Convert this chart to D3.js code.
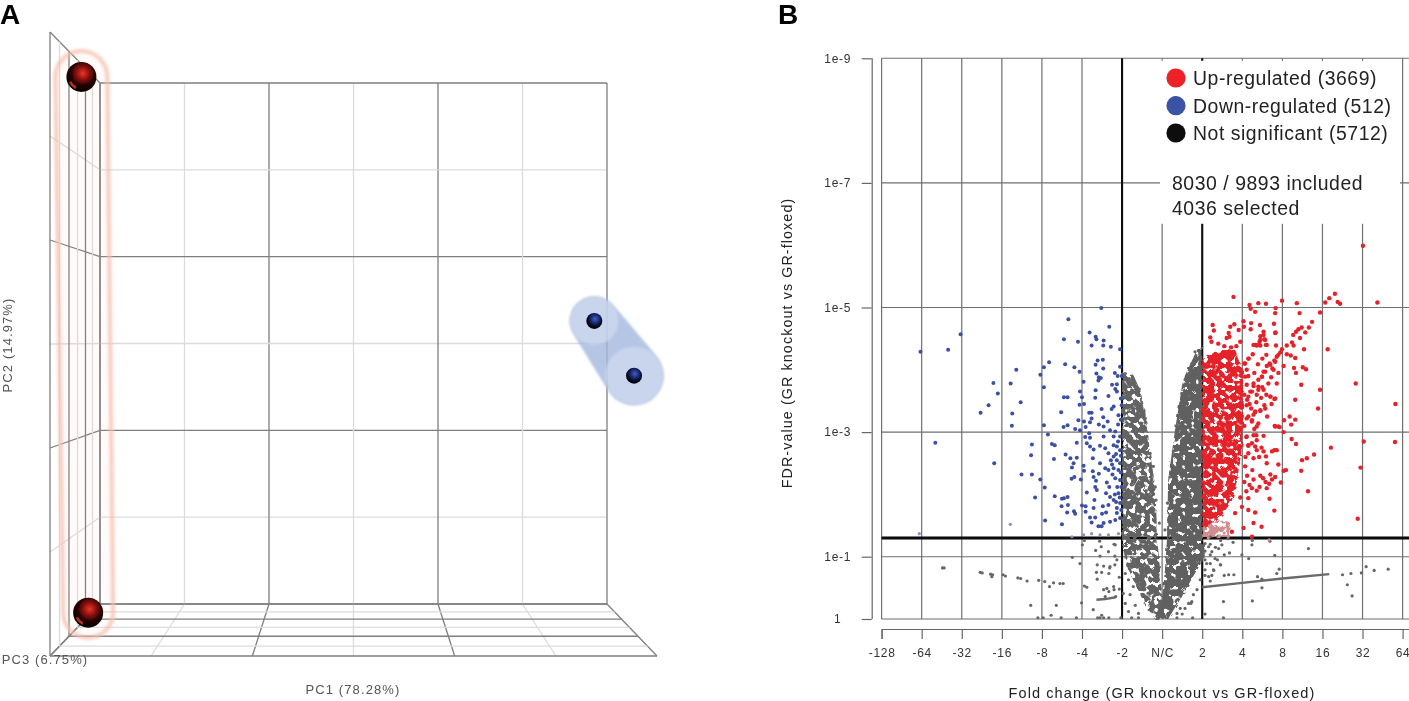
<!DOCTYPE html>
<html>
<head>
<meta charset="utf-8">
<script src="https://cdn.jsdelivr.net/npm/d3@7"></script>
<style>
html, body { margin: 0; padding: 0; background: #fff; overflow: hidden; }
svg { display: block; font-family: "Liberation Sans", Arial, sans-serif; }
</style>
</head>
<body>
<svg id="fig" width="1409" height="701"></svg>
<script>
// ---- panel A values: PCA box, in grid steps
var gridSteps = [0, 1, 2, 3, 4, 5, 6];
var depthStops = [0, 0.15, 0.29, 0.45, 0.62, 0.81, 1];
var redSamples = [[-0.22, 6.07], [-0.14, -0.10]];
var blueSamples = [[5.85, 3.26], [6.32, 2.63]];
var pcLabels = ["PC1 (78.28%)", "PC2 (14.97%)", "PC3 (6.75%)"];

// ---- panel B values: x is signed log2 fold change, y is -log10 FDR
var foldTicks = [-7, -6, -5, -4, -3, -2, -1, 0, 1, 2, 3, 4, 5, 6];
var foldLabels = ["-128", "-64", "-32", "-16", "-8", "-4", "-2", "N/C", "2", "4", "8", "16", "32", "64"];
var fdrTicks = [0, 1, 3, 5, 7, 9];
var fdrLabels = ["1", "1e-1", "1e-3", "1e-5", "1e-7", "1e-9"];
var fdrCutoff = 1.3;
var foldCutoff = 1;
var legendNames = ["Up-regulated (3669)", "Down-regulated (512)", "Not significant (5712)"];
var legendColors = ["#ec2028", "#3b52a5", "#0a0a0a"];
var includedNotes = ["8030 / 9893 included", "4036 selected"];

var downPoints = [[-1.52,4.99],[-2.34,4.81],[-1.32,4.69],[-1.81,4.60],[-1.66,4.53],[-1.64,4.49],[-2.45,4.49],[-2.10,4.45],[-1.46,4.47],[-1.76,4.39],[-1.47,4.39],[-1.28,4.37],[-1.05,4.33],[-5.03,4.57],[-5.34,4.32],[-6.03,4.29],[-2.82,4.12],[-2.95,4.04],[-2.42,4.09],[-2.19,4.04],[-2.06,3.97],[-1.61,4.15],[-1.48,4.16],[-1.66,4.08],[-1.47,4.02],[-3.64,4.00],[-3.04,3.92],[-4.21,3.79],[-3.78,3.78],[-4.10,3.62],[-4.33,3.43],[-4.53,3.31],[-3.74,3.30],[-3.53,3.48],[-3.75,3.10],[-2.95,3.72],[-1.96,3.81],[-1.64,3.94],[-1.58,3.88],[-1.53,3.87],[-1.59,3.83],[-1.18,3.95],[-1.11,3.90],[-1.01,3.90],[-1.05,4.05],[-1.25,3.76],[-1.13,3.77],[-1.17,3.69],[-1.13,3.65],[-1.66,3.67],[-2.05,3.65],[-2.00,3.56],[-1.67,3.55],[-2.45,3.56],[-2.36,3.56],[-1.34,3.58],[-1.95,3.45],[-2.06,3.44],[-1.03,3.54],[-1.21,3.41],[-1.26,3.37],[-1.51,3.37],[-1.01,3.43],[-1.76,3.31],[-1.82,3.31],[-2.52,3.32],[-1.76,3.22],[-1.09,3.27],[-2.09,3.19],[-1.95,3.17],[-1.80,3.16],[-1.47,3.24],[-1.36,3.17],[-2.95,3.11],[-2.46,3.08],[-2.36,3.11],[-2.17,3.05],[-2.05,3.03],[-1.91,3.08],[-1.58,3.12],[-1.46,3.09],[-1.30,3.03],[-1.17,3.01],[-2.85,2.96],[-1.82,2.98],[-1.92,2.92],[-1.80,2.91],[-1.46,2.93],[-1.21,2.93],[-1.05,2.93],[-3.25,2.80],[-2.75,2.81],[-2.68,2.79],[-2.13,2.83],[-1.88,2.82],[-1.80,2.77],[-1.71,2.72],[-1.55,2.78],[-1.42,2.74],[-1.21,2.79],[-1.13,2.77],[-1.05,2.71],[-5.66,2.83],[-3.27,2.63],[-2.70,2.57],[-2.41,2.64],[-2.29,2.58],[-2.13,2.59],[-1.73,2.58],[-2.21,2.50],[-2.25,2.43],[-1.96,2.46],[-1.55,2.50],[-1.34,2.66],[-1.21,2.61],[-1.13,2.55],[-1.05,2.50],[-1.42,2.42],[-1.34,2.39],[-1.21,2.42],[-1.09,2.39],[-4.19,2.50],[-3.51,2.32],[-3.25,2.32],[-3.04,2.24],[-2.93,2.11],[-2.26,2.25],[-2.19,2.28],[-2.03,2.24],[-1.95,2.38],[-1.73,2.37],[-1.58,2.33],[-1.71,2.28],[-1.65,2.22],[-1.38,2.19],[-1.17,2.26],[-1.05,2.23],[-1.32,2.12],[-1.67,2.12],[-1.63,2.07],[-1.88,2.03],[-1.40,2.02],[-1.30,1.96],[-1.21,1.91],[-1.09,2.02],[-3.17,1.95],[-2.68,1.97],[-2.50,1.93],[-2.45,1.94],[-2.36,1.96],[-2.51,1.81],[-2.35,1.83],[-2.20,1.73],[-2.00,1.82],[-1.91,1.81],[-1.69,1.91],[-1.48,1.81],[-1.34,1.83],[-1.13,1.78],[-1.05,1.86],[-1.71,1.78],[-2.37,1.71],[-2.17,1.69],[-1.91,1.72],[-1.50,1.69],[-1.40,1.71],[-1.13,1.70],[-2.92,1.58],[-2.50,1.52],[-1.80,1.63],[-1.67,1.63],[-1.76,1.55],[-1.59,1.49],[-1.46,1.54],[-1.30,1.56],[-1.17,1.59],[-1.05,1.62],[-1.51,1.49],[-1.10,2.85],[-1.15,2.65],[-1.25,2.48],[-1.03,2.35],[-1.12,2.12],[-1.02,2.12],[-1.18,2.00],[-1.06,1.95],[-1.24,2.32],[-1.28,2.55],[-1.03,2.62],[-1.10,3.12],[-1.03,3.20],[-1.15,1.88],[-1.02,1.75]];
var downNearCutoff = [[-6.06,1.37],[-3.79,1.52],[-2.25,1.32],[-1.96,1.35],[-1.76,1.37],[-1.55,1.35],[-1.34,1.35],[-1.09,1.37]];

var upPoints = [[1.78,5.17],[2.18,5.04],[2.40,5.07],[2.59,5.06],[2.99,5.11],[3.36,5.07],[4.07,5.08],[4.17,5.15],[4.31,5.22],[4.38,5.09],[4.44,5.06],[5.37,5.08],[5.01,5.99],[2.21,4.98],[2.32,4.93],[2.83,4.99],[2.82,4.91],[3.43,4.91],[3.94,4.92],[2.03,4.78],[1.26,4.72],[1.80,4.73],[2.22,4.75],[2.44,4.72],[2.79,4.74],[3.74,4.77],[1.70,4.69],[1.91,4.64],[2.04,4.69],[2.21,4.65],[2.83,4.60],[3.48,4.68],[3.40,4.65],[3.34,4.61],[3.66,4.68],[3.57,4.60],[1.29,4.63],[1.66,4.59],[2.53,4.61],[2.45,4.54],[3.27,4.56],[1.20,4.52],[1.61,4.51],[1.68,4.53],[2.55,4.49],[3.44,4.51],[3.24,4.44],[1.23,4.45],[1.95,4.45],[2.43,4.45],[2.28,4.40],[2.36,4.39],[2.45,4.39],[2.59,4.40],[2.84,4.39],[3.11,4.39],[3.28,4.39],[3.54,4.33],[4.13,4.33],[2.99,4.33],[2.95,4.28],[3.11,4.25],[3.21,4.23],[3.32,4.19],[2.86,4.21],[2.80,4.15],[2.61,4.06],[2.39,4.09],[3.29,4.03],[3.51,4.04],[3.59,4.01],[3.34,3.95],[3.03,4.06],[2.90,3.95],[2.53,3.97],[2.49,3.89],[2.40,3.84],[2.65,3.78],[2.86,3.78],[3.47,3.76],[3.94,3.68],[4.83,3.78],[2.28,3.74],[2.40,3.68],[2.20,3.65],[2.60,3.60],[2.70,3.57],[2.80,3.53],[3.32,3.52],[5.82,3.45],[3.89,3.38],[2.55,3.43],[2.45,3.34],[2.32,3.32],[3.18,3.25],[3.32,3.20],[3.04,3.19],[3.22,3.12],[2.11,3.22],[2.24,3.17],[2.36,3.09],[2.81,3.10],[2.93,3.08],[3.03,3.00],[2.53,2.94],[3.23,2.89],[3.34,2.81],[2.35,2.95],[2.24,2.82],[4.21,2.75],[5.03,2.85],[5.81,2.84],[2.80,2.71],[2.74,2.69],[3.79,2.64],[3.61,2.58],[3.49,2.55],[2.59,2.61],[2.61,2.50],[2.36,2.71],[2.15,2.66],[2.28,2.58],[2.90,2.48],[4.95,2.43],[3.03,2.38],[3.09,2.39],[3.47,2.38],[2.07,2.45],[2.25,2.39],[2.28,2.24],[2.82,2.28],[2.74,2.24],[2.67,2.17],[2.96,2.19],[2.61,2.10],[2.43,2.12],[2.36,2.06],[2.24,2.10],[3.64,2.05],[2.68,1.93],[2.15,1.94],[1.99,1.80],[1.82,1.70],[2.32,1.71],[2.80,1.74],[4.88,1.61],[2.28,1.54],[2.48,1.48],[2.03,1.46],[1.74,1.40],[2.24,1.32],[2.05,3.60],[2.12,3.52],[2.18,3.45],[2.22,3.38],[2.28,3.28],[2.05,3.10],[2.10,2.92],[2.15,2.78],[2.08,2.60],[2.12,2.30],[2.05,2.20],[2.18,2.15],[2.10,2.05],[1.95,1.95],[2.15,1.75],[2.45,2.30],[2.52,2.26],[2.58,2.20],[2.70,2.32],[2.42,2.60],[2.48,2.75],[2.30,3.05],[2.62,3.25],[2.73,3.45],[2.47,3.55],[2.35,3.48],[2.50,3.72],[2.72,3.88],[2.30,3.95],[2.15,3.90],[2.05,4.10],[2.16,4.18],[2.26,4.25],[1.40,4.42],[1.55,4.38],[1.72,4.36],[1.85,4.38],[2.50,4.18],[2.60,4.24],[2.68,4.10],[2.75,4.02],[2.07,4.10],[2.15,4.18],[2.11,4.00],[2.07,3.89],[2.32,4.40],[2.40,4.40],[2.61,4.40],[2.53,4.56],[2.45,4.48],[2.57,4.48],[2.82,4.59],[2.90,4.24],[2.82,4.13],[2.70,4.08],[2.57,3.97],[2.49,3.89],[2.78,4.00],[2.11,3.76],[2.28,3.78],[2.40,3.73],[2.53,3.68],[2.24,3.65],[2.36,3.60],[2.15,3.57],[2.70,3.57],[2.82,3.54],[2.57,3.38],[2.45,3.35],[2.32,3.33],[2.15,3.25],[2.24,3.19],[2.11,3.43],[2.40,3.14],[2.82,3.09],[2.90,3.09],[2.28,2.95],[2.36,2.87],[2.11,2.93],[2.15,2.79],[2.32,2.77],[2.86,2.71],[2.53,2.69]];
var upNearCutoff = [[2.67,1.27],[1.05,1.35],[1.15,1.30],[1.28,1.36],[1.42,1.32],[1.55,1.38],[1.65,1.33]];

var flatPoints = [[-5.48,0.82],[-5.44,0.82],[-4.54,0.75],[-4.49,0.74],[-4.28,0.72],[-4.23,0.71],[-4.25,0.68],[-3.97,0.71],[-3.91,0.69],[-3.60,0.66],[-3.53,0.65],[-3.37,0.61],[-3.08,0.62],[-2.93,0.60],[-2.71,0.58],[-2.81,0.52],[-2.55,0.57],[-2.47,0.57],[-3.28,0.22],[-2.64,0.22],[-2.77,0.06],[-2.52,0.02],[-2.97,0.02],[-3.10,0.02],[-2.14,0.02],[-2.01,0.26],[-1.94,0.53],[-1.88,0.51],[-2.05,0.89],[-2.24,0.99],[-1.99,1.19],[-1.94,1.26],[-1.56,1.25],[-1.52,1.16],[-1.66,1.10],[-1.55,1.01],[-1.62,0.87],[-1.46,0.85],[-1.64,0.75],[-1.51,0.75],[-1.33,0.73],[-1.62,0.64],[-1.31,0.82],[-1.18,0.87],[-1.18,1.01],[-1.20,1.20],[-1.07,0.67],[-1.20,0.47],[-1.33,0.44],[-1.46,0.47],[-1.07,0.48],[-1.16,0.36],[-1.72,0.15],[-1.51,0.06],[-1.55,0.02],[-1.61,0.02],[-1.46,0.02],[-1.33,0.02],[-1.03,0.02],[-0.76,0.02],[-0.59,0.02],[2.24,1.19],[2.25,1.26],[2.69,1.25],[2.81,1.02],[2.16,0.97],[1.99,1.03],[3.65,1.13],[1.24,0.70],[1.55,0.70],[1.66,0.71],[1.79,0.71],[2.38,0.68],[2.49,0.64],[2.49,0.50],[2.86,0.73],[2.92,0.80],[5.09,0.84],[4.97,0.74],[4.71,0.73],[4.50,0.71],[4.62,0.55],[4.74,0.37],[5.29,0.78],[5.64,0.80],[1.53,0.28],[2.25,0.29],[1.07,0.08],[1.53,0.02],[0.72,0.25],[0.50,0.08],[0.76,0.02],[0.37,0.02],[1.20,1.20],[1.33,1.15],[1.46,1.26],[1.64,1.29],[1.77,1.23],[1.20,1.03],[1.38,0.95],[1.55,1.03],[1.68,1.06],[1.11,0.89],[1.29,0.78],[1.46,0.87],[1.07,0.70],[1.20,0.61],[1.20,1.32],[1.38,1.32],[1.07,1.09],[1.07,1.21],[1.16,1.16],[1.24,1.08],[1.32,0.97],[1.20,0.89],[1.07,0.79],[1.41,1.13],[1.49,1.19],[1.03,1.05],[1.16,0.68],[1.45,0.87],[1.07,0.95],[1.28,0.79],[0.95,0.63],[0.87,0.47],[0.74,0.28],[0.57,0.17],[0.78,0.39],[-1.38,0.49],[-1.21,0.52],[-1.42,0.36],[-1.17,1.19],[-1.34,1.08],[-1.30,0.84],[-1.13,0.95],[-0.92,0.25],[-0.80,0.39],[-0.67,0.22],[-0.84,0.12],[-0.59,0.09],[-0.97,0.41],[-0.72,0.52],[-0.84,0.63],[-0.92,0.73],[0.49,0.41],[0.66,0.25],[0.45,0.17],[0.37,0.09]];
var flatEdgePoints = [[-0.92,3.94],[-0.82,3.86],[-0.74,3.87],[-0.84,3.78],[-0.76,3.68],[-0.57,3.69],[-0.67,3.43],[-0.51,3.35],[-0.45,3.34],[-0.42,3.22],[-0.80,3.09],[-0.51,3.01],[-0.38,2.93],[-0.30,2.66],[-0.22,2.45],[-0.17,2.12],[-0.15,1.91],[-0.07,1.54],[0.82,4.29],[0.74,4.10],[0.66,3.94],[0.57,3.84],[0.49,3.62],[0.53,3.73],[0.37,3.11],[0.28,2.69],[0.20,2.28],[0.13,1.86],[0.07,1.43]];
var rightStreak = [[1.0,0.51],[2.0,0.58],[3.0,0.65],[4.17,0.72]];
var leftStreak = [[-1.64,0.31],[-1.42,0.32],[-1.16,0.35]];

// outlines of the clouds too dense to read point by point
var flatLeftCloud = [[-1.00,3.96],[-0.72,3.92],[-0.55,3.68],[-0.42,3.32],[-0.30,2.66],[-0.17,2.12],[-0.12,1.27],[-0.05,0.79],[0,0.30],[0.10,0],[-0.37,0.14],[-0.60,0.47],[-0.85,0.79],[-1.00,1.19]];
var flatRightCloud = [[0.87,4.32],[1.00,4.40],[1.00,1.27],[1.07,1.19],[1.02,0.95],[0.75,0.66],[0.52,0.39],[0.25,0.11],[0.15,0],[-0.20,0],[0,0.30],[0.07,0.79],[0.12,1.27],[0.15,2.23],[0.32,3.03],[0.52,3.84]];
var upCloud = [[1.00,4.16],[1.32,4.29],[1.82,4.32],[2.02,4.00],[2.02,2.87],[1.87,2.23],[1.75,1.91],[1.50,1.67],[1.15,1.51],[1.00,1.47]];
var upPaleCloud = [[1.00,1.30],[1.00,1.47],[1.32,1.59],[1.70,1.56],[1.65,1.33]];

var svg = d3.select("#fig");
var defs = svg.append("defs");

defs.append("filter").attr("id", "soft").append("feGaussianBlur").attr("stdDeviation", 0.4);
defs.append("filter").attr("id", "halo").attr("x", "-20%").attr("y", "-5%").attr("width", "140%").attr("height", "110%")
    .append("feGaussianBlur").attr("stdDeviation", 1.6);
defs.append("filter").attr("id", "tubeBlur").append("feGaussianBlur").attr("stdDeviation", 1.3);

// punches speckled holes in a dense cloud and frays its edge
function speckleFilter(id, threshold, seed) {
    var f = defs.append("filter").attr("id", id).attr("color-interpolation-filters", "sRGB")
        .attr("x", "-10%").attr("y", "-10%").attr("width", "120%").attr("height", "120%");
    f.append("feTurbulence").attr("type", "fractalNoise").attr("baseFrequency", 0.22).attr("numOctaves", 1)
        .attr("seed", seed).attr("result", "noise");
    f.append("feColorMatrix").attr("in", "noise").attr("type", "matrix")
        .attr("values", "0 0 0 0 0  0 0 0 0 0  0 0 0 0 0  14 0 0 0 " + (-14 * threshold)).attr("result", "holes");
    f.append("feComposite").attr("in", "SourceGraphic").attr("in2", "holes").attr("operator", "in").attr("result", "cut");
    f.append("feDisplacementMap").attr("in", "cut").attr("in2", "noise").attr("scale", 5);
}
speckleFilter("cloudDense", 0.33, 4);
speckleFilter("cloudSparse", 0.39, 9);
speckleFilter("cloudRed", 0.37, 15);

function ballGradient(id, stops) {
    var g = defs.append("radialGradient").attr("id", id).attr("cx", "55%").attr("cy", "38%").attr("r", "60%");
    stops.forEach(function(s) { g.append("stop").attr("offset", s[0]).attr("stop-color", s[1]); });
}
ballGradient("redBall", [["0%", "#e33a2b"], ["30%", "#a01411"], ["65%", "#2a0303"], ["100%", "#050000"]]);
ballGradient("blueBall", [["0%", "#3e62c4"], ["40%", "#1c2f7a"], ["75%", "#050a24"], ["100%", "#000"]]);

/* ---- PANEL A ----------------------------- */
var panelA = svg.append("g").attr("filter", "url(#soft)");

panelA.append("text").attr("x", 0).attr("y", 24).attr("font-size", 28).attr("font-weight", "bold").text("A");

var backX = d3.scaleLinear().domain([0, 6]).range([100, 607]);
var frontX = d3.scaleLinear().domain([0, 6]).range([50, 657]);
var backY = d3.scaleLinear().domain([0, 6]).range([604, 83]);
var frontY = d3.scaleLinear().domain([0, 6]).range([656, 32]);

function boxLine(x1, y1, x2, y2, i) {
    panelA.append("line").attr("x1", x1).attr("y1", y1).attr("x2", x2).attr("y2", y2)
        .attr("stroke", i % 2 ? "#dcdcdc" : "#7f7f7f").attr("stroke-width", 1.3);
}

gridSteps.forEach(function(s, i) {
    boxLine(backX(s), backY(0), backX(s), backY(6), i);        // back wall, verticals
    boxLine(backX(0), backY(s), backX(6), backY(s), i);        // back wall, horizontals
    boxLine(backX(0), backY(s), frontX(0), frontY(s), i);      // left wall, going back
    boxLine(backX(s), backY(0), frontX(s), frontY(0), i);      // floor, going back
});
depthStops.forEach(function(t, i) {
    var x = d3.interpolateNumber(backX(0), frontX(0))(t);
    var yTop = d3.interpolateNumber(backY(6), frontY(6))(t);
    var yBot = d3.interpolateNumber(backY(0), frontY(0))(t);
    boxLine(x, yTop, x, yBot, i);
    boxLine(x, yBot, d3.interpolateNumber(backX(6), frontX(6))(t), yBot, i);
});

function capsulePath(a, b, ra, rb) {
    var ang = Math.atan2(b[1] - a[1], b[0] - a[0]);
    var nx = Math.cos(ang + Math.PI / 2), ny = Math.sin(ang + Math.PI / 2);
    return "M" + (a[0] + nx * ra) + "," + (a[1] + ny * ra) +
        "A" + ra + "," + ra + " 0 0 1 " + (a[0] - nx * ra) + "," + (a[1] - ny * ra) +
        "L" + (b[0] - nx * rb) + "," + (b[1] - ny * rb) +
        "A" + rb + "," + rb + " 0 0 1 " + (b[0] + nx * rb) + "," + (b[1] + ny * rb) + "Z";
}
function project(p) { return [backX(p[0]), backY(p[1])]; }

// red group: pale hull with a pink rim
var rA = project(redSamples[0]), rB = project(redSamples[1]);
panelA.append("path").attr("d", capsulePath(rA, rB, 26, 25)).attr("fill", "#f8c3b2").attr("fill-opacity", 0.06)
    .attr("stroke", "#f6bfae").attr("stroke-width", 4).attr("stroke-opacity", 0.8).attr("filter", "url(#halo)");

// blue group: tube with one lighter sphere per sample
var bA = project(blueSamples[0]), bB = project(blueSamples[1]);
var blueHull = panelA.append("g").attr("filter", "url(#tubeBlur)");
blueHull.append("path").attr("d", capsulePath(bA, bB, 25, 30)).attr("fill", "#a3b8df").attr("fill-opacity", 0.8);
blueHull.append("circle").attr("cx", bA[0]).attr("cy", bA[1]).attr("r", 24).attr("fill", "#d5dff2").attr("fill-opacity", 0.6);
blueHull.append("circle").attr("cx", bB[0]).attr("cy", bB[1]).attr("r", 29).attr("fill", "#d5dff2").attr("fill-opacity", 0.6);

panelA.selectAll("circle.red").data(redSamples).enter().append("circle").attr("class", "red")
    .attr("cx", function(d) { return backX(d[0]); }).attr("cy", function(d) { return backY(d[1]); })
    .attr("r", 15).attr("fill", "url(#redBall)");
// small reflection low on the left of each red ball
panelA.selectAll("path.glint").data(redSamples).enter().append("path").attr("class", "glint")
    .attr("d", d3.arc().innerRadius(11).outerRadius(13.5).startAngle(3.6).endAngle(4.3))
    .attr("transform", function(d) { return "translate(" + backX(d[0]) + "," + backY(d[1]) + ")"; })
    .attr("fill", "#b5341f");
panelA.selectAll("circle.blue").data(blueSamples).enter().append("circle").attr("class", "blue")
    .attr("cx", function(d) { return backX(d[0]); }).attr("cy", function(d) { return backY(d[1]); })
    .attr("r", 8).attr("fill", "url(#blueBall)");

function pcText(x, y, s, rot) {
    panelA.append("text").attr("x", x).attr("y", y).attr("font-size", 13).attr("fill", "#555")
        .attr("letter-spacing", 1.1).attr("text-anchor", "middle")
        .attr("transform", rot ? "rotate(-90 " + x + " " + y + ")" : null).text(s);
}
pcText(353, 694, pcLabels[0], false);
pcText(12, 345, pcLabels[1], true);
pcText(45, 664, pcLabels[2], false);

/* ---- PANEL B ----------------------------- */
var panelB = svg.append("g").attr("filter", "url(#soft)");

panelB.append("text").attr("x", 778).attr("y", 24).attr("font-size", 28).attr("font-weight", "bold").text("B");

var xScale = d3.scaleLinear().domain([-7, 7]).range([881.6, 1442.7]);
var yScale = d3.scaleLinear().domain([0, 9]).range([619, 58.3]);
var plotTop = yScale(9), plotBottom = yScale(0), plotLeft = xScale(-7);

var gridColor = "#6f6f6f";

var grid = panelB.append("g");
grid.selectAll("line.h").data(fdrTicks).enter().append("line").attr("class", "h")
    .attr("x1", plotLeft).attr("x2", 1409)
    .attr("y1", yScale).attr("y2", yScale)
    .attr("stroke", gridColor).attr("stroke-width", 1.1);
grid.selectAll("line.v").data(foldTicks).enter().append("line").attr("class", "v")
    .attr("x1", xScale).attr("x2", xScale)
    .attr("y1", plotTop).attr("y2", plotBottom)
    .attr("stroke", gridColor).attr("stroke-width", 1.2);

// cutoffs
[-foldCutoff, foldCutoff].forEach(function(k) {
    grid.append("line").attr("x1", xScale(k)).attr("x2", xScale(k)).attr("y1", plotTop).attr("y2", plotBottom)
        .attr("stroke", "#111").attr("stroke-width", 2.1);
});
grid.append("line").attr("x1", plotLeft).attr("x2", 1409).attr("y1", yScale(fdrCutoff)).attr("y2", yScale(fdrCutoff))
    .attr("stroke", "#0a0a0a").attr("stroke-width", 2.8);

// axes
var xAxis = d3.axisBottom(xScale).tickValues(foldTicks)
    .tickFormat(function(d) { return foldLabels[foldTicks.indexOf(d)]; }).tickSize(10).tickPadding(9);
var xg = panelB.append("g").attr("transform", "translate(0,629)").call(xAxis);
var yAxis = d3.axisLeft(yScale).tickValues(fdrTicks)
    .tickFormat(function(d) { return fdrLabels[fdrTicks.indexOf(d)]; }).tickSize(10).tickPadding(10);
var yg = panelB.append("g").attr("transform", "translate(871.7,0)").call(yAxis);
[xg, yg].forEach(function(g) {
    g.selectAll("path,line").attr("stroke", "#666").attr("stroke-width", 1.2);
    g.selectAll("text").attr("font-family", "Liberation Sans").attr("font-size", 12).attr("fill", "#333").attr("letter-spacing", 0.7);
});
yg.selectAll("path").attr("d", "M0.5," + plotTop + "V" + plotBottom);
yg.selectAll("text").attr("text-anchor", "middle").attr("x", -34);

panelB.append("text").attr("x", 1162).attr("y", 698).attr("text-anchor", "middle")
    .attr("font-size", 14.5).attr("fill", "#222").attr("letter-spacing", 1.1)
    .text("Fold change (GR knockout vs GR-floxed)");
panelB.append("text").attr("transform", "translate(792,343) rotate(-90)").attr("text-anchor", "middle")
    .attr("font-size", 14.3).attr("fill", "#222").attr("letter-spacing", 1.1)
    .text("FDR-value (GR knockout vs GR-floxed)");

// dense clouds
var cloudLine = d3.line().x(function(d) { return xScale(d[0]); }).y(function(d) { return yScale(d[1]); });
function cloud(points, color, filter) {
    panelB.append("path").attr("d", cloudLine(points) + "Z").attr("fill", color).attr("filter", "url(#" + filter + ")");
}
cloud(flatLeftCloud, "#636363", "cloudSparse");
cloud(flatRightCloud, "#606060", "cloudDense");
cloud(upPaleCloud, "#cf8d8f", "cloudSparse");
cloud(upCloud, "#e3222b", "cloudRed");

[rightStreak, leftStreak].forEach(function(s) {
    panelB.append("path").attr("d", cloudLine(s)).attr("fill", "none").attr("stroke", "#6a6a6a").attr("stroke-width", 2.4);
});

function dots(name, points, color, r) {
    panelB.selectAll("circle." + name).data(points).enter().append("circle").attr("class", name)
        .attr("cx", function(d) { return xScale(d[0]); })
        .attr("cy", function(d) { return yScale(d[1]); })
        .attr("r", r).attr("fill", color);
}
dots("flat", flatPoints, "#666", 1.6);
dots("flatEdge", flatEdgePoints, "#666", 1.6);
dots("downPale", downNearCutoff, "#8a8fc4", 1.6);
dots("down", downPoints, "#3b4fa3", 2.0);
dots("upPale", upNearCutoff, "#d88a8c", 1.6);
dots("up", upPoints, "#e3222b", 2.2);

// legend box sits over the grid
var legendBox = panelB.append("g");
legendBox.append("rect").attr("x", 1160).attr("y", plotTop + 2.5).attr("width", 240).attr("height", 163).attr("fill", "#fff");
legendNames.forEach(function(n, i) {
    var y = [78, 105.7, 133][i];
    legendBox.append("circle").attr("cx", 1176).attr("cy", y).attr("r", 9.6).attr("fill", legendColors[i]);
    legendBox.append("text").attr("x", 1193).attr("y", y + 7).attr("font-size", 19.4).attr("fill", "#222")
        .attr("letter-spacing", 0.55).text(n);
});
includedNotes.forEach(function(n, i) {
    legendBox.append("text").attr("x", 1172).attr("y", 190 + i * 25).attr("font-size", 19.4).attr("fill", "#222")
        .attr("letter-spacing", 0.55).text(n);
});
</script>
</body>
</html>
